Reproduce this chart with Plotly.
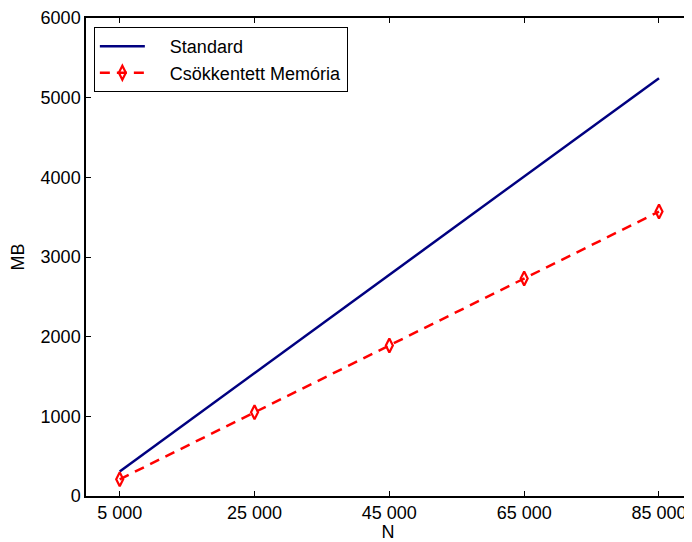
import plotly.graph_objects as go

N = [5000, 25000, 45000, 65000, 85000]
standard = [308, 1543, 2777, 4011, 5245]
reduced = [210, 1050, 1890, 2730, 3570]
x_tick_vals = [5000, 25000, 45000, 65000, 85000]
x_tick_text = ["5 000", "25 000", "45 000", "65 000", "85 000"]
y_tick_vals = [0, 1000, 2000, 3000, 4000, 5000, 6000]
pad = "\u00a0" * 4

fig = go.Figure()
fig.add_trace(go.Scatter(x=N, y=standard, mode="lines", name=pad + "Standard",
                         line=dict(color="#000080", width=2.5)))
fig.add_trace(go.Scatter(x=N, y=reduced, mode="lines+markers", name=pad + "Csökkentett Memória",
                         line=dict(color="#ff0000", width=2.5, dash="10px,7px"),
                         marker=dict(symbol="diamond-tall-open", size=10, color="#ff0000",
                                     line=dict(width=2.2, color="#ff0000"))))

axis_common = dict(showgrid=False, zeroline=False, showline=True, linecolor="black",
                   linewidth=1.5, mirror="ticks", ticks="inside", ticklen=5,
                   tickcolor="black", tickfont=dict(size=18, color="black"),
                   ticklabeloverflow="allow")

# page body has an 8px default margin: the figure is sized/offset to compensate
fig.update_layout(
    width=684, height=534,
    margin=dict(l=78, r=0, t=8, b=46),
    paper_bgcolor="white", plot_bgcolor="white",
    font=dict(family="Liberation Sans, Arial, sans-serif", size=18, color="black"),
    xaxis=dict(range=[0, 89600], tickvals=x_tick_vals, ticktext=x_tick_text,
               ticklabelstandoff=0,
               title=dict(text="N", standoff=0, font=dict(size=18)), **axis_common),
    yaxis=dict(range=[0, 6000], tickvals=y_tick_vals,
               title=dict(text="MB", standoff=13, font=dict(size=18)), **axis_common),
    legend=dict(x=0.013, y=0.981, xanchor="left", yanchor="top",
                bordercolor="black", borderwidth=1, bgcolor="white",
                font=dict(size=18), tracegroupgap=0, itemwidth=45),
    showlegend=True,
)

fig.write_html("out.html")
